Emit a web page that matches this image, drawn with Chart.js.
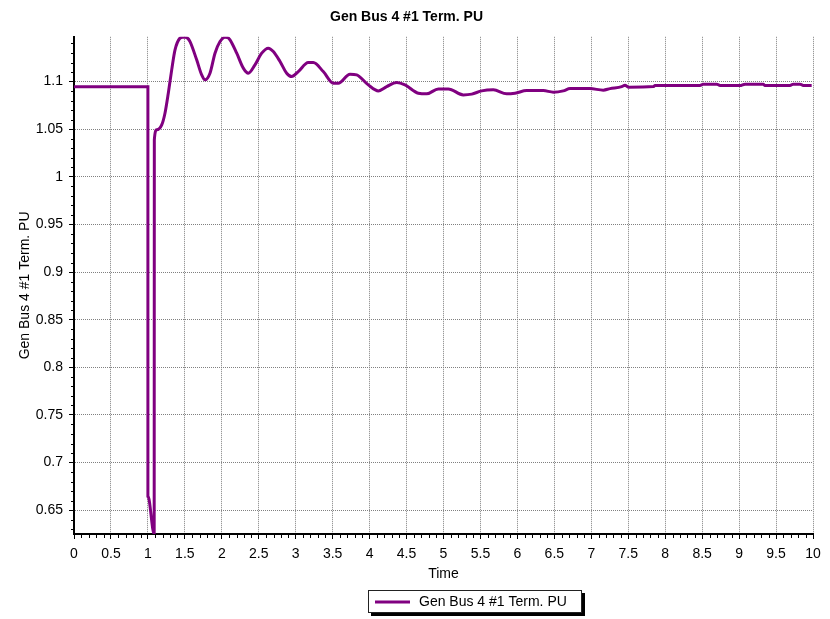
<!DOCTYPE html>
<html>
<head>
<meta charset="utf-8">
<title>Gen Bus 4 #1 Term. PU</title>
<script src="https://cdn.jsdelivr.net/npm/chart.js@4.4.1/dist/chart.umd.min.js"></script>
<style>
  html, body { margin: 0; padding: 0; background: #fff; }
</style>
</head>
<body>
<canvas id="termChart" width="830" height="619"></canvas>
<script>
const seriesLabel = 'Gen Bus 4 #1 Term. PU';
const xTitle = 'Time';

// time (s) and terminal voltage (pu)
const timeValues = [
  0, 1.0, 1.0, 1.085, 1.087, 1.119, 1.187, 1.231, 1.276, 1.322, 1.367, 1.434,
  1.47, 1.502, 1.53, 1.570, 1.660, 1.728, 1.773, 1.84, 1.908, 1.976, 2.043, 2.08,
  2.111, 2.202, 2.291, 2.359, 2.449, 2.54, 2.629, 2.697, 2.788, 2.878, 2.946,
  3.035, 3.17, 3.238, 3.373, 3.509, 3.576, 3.735, 3.825, 3.982, 4.118, 4.231,
  4.367, 4.479, 4.659, 4.773, 4.93, 5.065, 5.268, 5.382, 5.517, 5.674, 5.855,
  5.968, 6.126, 6.351, 6.486, 6.621, 6.712, 6.982, 7.162, 7.253, 7.411, 7.456,
  7.501, 7.839, 7.862, 8.471, 8.516, 8.697, 8.742, 9.012, 9.08, 9.327, 9.35,
  9.689, 9.733, 9.824, 9.869, 9.982
];
const puValues = [
  1.0945, 1.0945, 0.665, 0.625, 1.0388, 1.0493, 1.0545, 1.0668, 1.0878, 1.1123, 1.1333, 1.1456,
  1.1466, 1.1466, 1.146, 1.142, 1.1228, 1.107, 1.1018, 1.1088, 1.1298, 1.142, 1.1466, 1.1462,
  1.1438, 1.1298, 1.1141, 1.1088, 1.1175, 1.1298, 1.1351, 1.1315, 1.121, 1.1088, 1.1053,
  1.1105, 1.12, 1.12, 1.1105, 1.0983, 1.0983, 1.1078, 1.107, 1.0965, 1.0902, 1.0947,
  1.099, 1.0965, 1.0878, 1.0871, 1.0923, 1.0923, 1.086, 1.0868, 1.0902, 1.0913, 1.0871,
  1.0878, 1.0905, 1.0905, 1.0889, 1.0902, 1.0926, 1.0926, 1.091, 1.0926, 1.0947, 1.0962,
  1.0941, 1.0947, 1.0958, 1.0958, 1.0973, 1.0973, 1.0958, 1.0958, 1.0973, 1.0973, 1.0958,
  1.0958, 1.0973, 1.0973, 1.0958, 1.0958
];

const xTicks = [0, 0.5, 1, 1.5, 2, 2.5, 3, 3.5, 4, 4.5, 5, 5.5, 6, 6.5, 7, 7.5, 8, 8.5, 9, 9.5, 10];
const yTicks = [0.65, 0.7, 0.75, 0.8, 0.85, 0.9, 0.95, 1, 1.05, 1.1];
const yMin = 0.625;
const yMax = 1.147;

const lineColor = '#800080';
const fontFamily = 'Arial, "Liberation Sans", sans-serif';

Chart.defaults.font.family = fontFamily;
Chart.defaults.font.size = 14;
Chart.defaults.color = '#000';

// minor ticks on both axes + boxed legend like the original tool draws it
const extrasPlugin = {
  id: 'extras',
  afterDraw(chart) {
    const { ctx, chartArea, scales } = chart;
    const x = scales.x, y = scales.y;
    ctx.save();
    ctx.strokeStyle = '#000';
    ctx.lineWidth = 1;
    ctx.beginPath();
    for (let i = 1; i < 100; i++) {
      if (i % 5 === 0) continue;
      const px = Math.round(x.getPixelForValue(i / 10)) + 0.5;
      ctx.moveTo(px, chartArea.bottom);
      ctx.lineTo(px, chartArea.bottom + 4);
    }
    for (let i = 63; i <= 114; i++) {
      if (i % 5 === 0) continue;
      const py = Math.round(y.getPixelForValue(i / 100)) + 0.5;
      ctx.moveTo(chartArea.left - 3, py);
      ctx.lineTo(chartArea.left, py);
    }
    ctx.stroke();

    const lx = 368, ly = 590, lw = 214, lh = 23;
    ctx.fillStyle = '#000';
    ctx.fillRect(lx + 3, ly + 3, lw, lh);
    ctx.fillStyle = '#fff';
    ctx.fillRect(lx, ly, lw, lh);
    ctx.strokeStyle = '#222';
    ctx.strokeRect(lx + 0.5, ly + 0.5, lw - 1, lh - 1);
    ctx.strokeStyle = lineColor;
    ctx.lineWidth = 3;
    ctx.beginPath();
    ctx.moveTo(lx + 7, ly + 12);
    ctx.lineTo(lx + 42, ly + 12);
    ctx.stroke();
    ctx.fillStyle = '#000';
    ctx.font = '14px ' + fontFamily;
    ctx.textBaseline = 'middle';
    ctx.fillText(chart.data.datasets[0].label, lx + 51, ly + 12);
    ctx.restore();
  }
};

const ctx = document.getElementById('termChart');
new Chart(ctx, {
  type: 'scatter',
  data: {
    datasets: [{
      label: seriesLabel,
      data: timeValues.map((t, i) => ({ x: t, y: puValues[i] })),
      showLine: true,
      borderColor: lineColor,
      backgroundColor: lineColor,
      borderWidth: 3,
      pointRadius: 0,
      cubicInterpolationMode: 'monotone'
    }]
  },
  options: {
    responsive: false,
    animation: false,
    layout: { padding: { left: 0, right: 17, top: 0, bottom: 35 } },
    plugins: {
      legend: { display: false },
      tooltip: { enabled: false },
      title: {
        display: true,
        text: seriesLabel,
        font: { size: 14, weight: 'bold' },
        padding: { top: 9, bottom: 11 }
      }
    },
    scales: {
      x: {
        type: 'linear',
        min: 0,
        max: 10,
        afterBuildTicks: s => { s.ticks = xTicks.map(v => ({ value: v })); },
        afterFit: s => { s.height = 50; },
        ticks: { autoSkip: false, maxRotation: 0, padding: 7, callback: v => String(v) },
        grid: { color: '#808080', lineWidth: 1, tickColor: '#000', tickLength: 5 },
        border: { color: '#000', width: 2, dash: [1, 1] },
        title: { display: true, text: xTitle, padding: { top: 0, bottom: 1 } }
      },
      y: {
        min: yMin,
        max: yMax,
        afterBuildTicks: s => { s.ticks = yTicks.map(v => ({ value: v })); },
        afterFit: s => { s.width = 74; },
        ticks: { padding: 6, callback: v => String(v) },
        grid: { color: '#808080', lineWidth: 1, tickColor: '#000', tickLength: 5 },
        border: { color: '#000', width: 2, dash: [1, 1] },
        title: { display: true, text: seriesLabel, padding: { top: 17, bottom: 0 } }
      }
    }
  },
  plugins: [extrasPlugin]
});
</script>
</body>
</html>
